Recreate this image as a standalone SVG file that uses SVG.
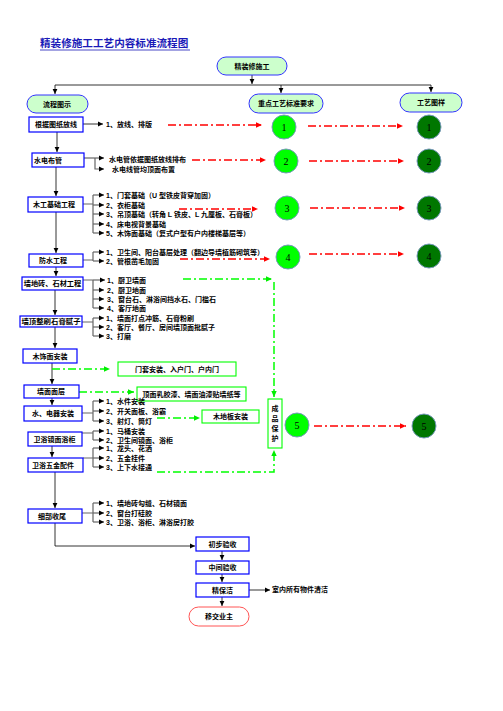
<svg xmlns="http://www.w3.org/2000/svg" width="503" height="711" viewBox="0 0 503 711">
<defs>
<marker id="ab" markerWidth="6" markerHeight="6" refX="5" refY="3" orient="auto" markerUnits="userSpaceOnUse"><path d="M0,0.6 L5,3 L0,5.4 z" fill="#000"/></marker>
<marker id="ar" markerWidth="7" markerHeight="7" refX="6" refY="3.5" orient="auto" markerUnits="userSpaceOnUse"><path d="M0,0.8 L6,3.5 L0,6.2 z" fill="#FF0000"/></marker>
<marker id="ag" markerWidth="7" markerHeight="7" refX="6" refY="3.5" orient="auto" markerUnits="userSpaceOnUse"><path d="M0,0.8 L6,3.5 L0,6.2 z" fill="#00EE00"/></marker>
</defs>
<style>
text{font-family:"Liberation Sans","Noto Sans CJK SC",sans-serif;font-weight:bold;fill:#000;dominant-baseline:central}
.t{font-size:7px}
.b{font-size:7px;text-anchor:middle}
.box{fill:#fff;stroke:#0000FF;stroke-width:1.2}
.pill{fill:#CCFFCC;stroke:#3333FF;stroke-width:1}
.gbox{fill:#fff;stroke:#00FF00;stroke-width:1.1}
.c1{fill:#00FF00;stroke:#7799BB;stroke-width:1}
.c2{fill:#007700;stroke:#7799BB;stroke-width:1}
.num{font-family:"Liberation Serif",serif;font-weight:normal;font-size:10px;text-anchor:middle}
.ln{stroke:#000;stroke-width:0.8;fill:none}
.br{stroke:#666;stroke-width:1.2;fill:none}
.rd{stroke:#FF0000;stroke-width:1.5;stroke-dasharray:8 3 2 3;fill:none}
.gd{stroke:#00FF00;stroke-width:1.5;stroke-dasharray:8 3 2 3;fill:none}
</style>
<rect width="503" height="711" fill="#fff"/>
<g id="title">
<text x="40" y="43" style="font-size:10.6px;fill:#1A1AB8">精装修施工工艺内容标准流程图</text>
<line x1="40" y1="50" x2="190" y2="50" stroke="#1A1AB8" stroke-width="0.8"/>
</g>
<g id="connectors">
<path class="ln" d="M252,75 V84" marker-end="url(#ab)"/>
<path class="ln" d="M55,85 H431"/>
<path class="ln" d="M55,85 V94" marker-end="url(#ab)"/>
<path class="ln" d="M281,85 V93" marker-end="url(#ab)"/>
<path class="ln" d="M431,85 V92" marker-end="url(#ab)"/>
<path class="ln" d="M57,132 V152" marker-end="url(#ab)"/>
<path class="ln" d="M56,167 V196" marker-end="url(#ab)"/>
<path class="ln" d="M56,212 V253" marker-end="url(#ab)"/>
<path class="ln" d="M56,267 V276" marker-end="url(#ab)"/>
<path class="ln" d="M55,290 V315" marker-end="url(#ab)"/>
<path class="ln" d="M55,327 V348" marker-end="url(#ab)"/>
<path class="ln" d="M52,363 V384" marker-end="url(#ab)"/>
<path class="ln" d="M52,398 V405" marker-end="url(#ab)"/>
<path class="ln" d="M52,446 V457" marker-end="url(#ab)"/>
<path class="ln" d="M55,472 V508" marker-end="url(#ab)"/>
<path class="ln" d="M55,523 V546 H195" marker-end="url(#ab)"/>
<path class="ln" d="M222,551 V560" marker-end="url(#ab)"/>
<path class="ln" d="M222,574 V582" marker-end="url(#ab)"/>
<path class="ln" d="M222,597 V606" marker-end="url(#ab)"/>
<path class="ln" d="M249,590 H270" marker-end="url(#ab)"/>
<path class="ln" d="M83,124 H103" marker-end="url(#ab)"/>
<g class="br">
<path d="M84,158 H104" marker-end="url(#ab)"/>
<path d="M95,158 V169 H104" marker-end="url(#ab)"/>
<path d="M83,204 H93 M93,195 V233"/>
<path d="M93,195 H104" marker-end="url(#ab)"/>
<path d="M93,205 H104" marker-end="url(#ab)"/>
<path d="M93,214 H104" marker-end="url(#ab)"/>
<path d="M93,224 H104" marker-end="url(#ab)"/>
<path d="M93,233 H104" marker-end="url(#ab)"/>
<path d="M83,260 H93 M93,252 V261"/>
<path d="M93,252 H104" marker-end="url(#ab)"/>
<path d="M93,261 H104" marker-end="url(#ab)"/>
<path d="M83,280 H93 M93,280 V308"/>
<path d="M93,280 H105" marker-end="url(#ab)"/>
<path d="M93,290 H104" marker-end="url(#ab)"/>
<path d="M93,299 H104" marker-end="url(#ab)"/>
<path d="M93,308 H104" marker-end="url(#ab)"/>
<path d="M82,322 H93 M93,318 V336"/>
<path d="M93,318 H104" marker-end="url(#ab)"/>
<path d="M93,327 H104" marker-end="url(#ab)"/>
<path d="M93,336 H104" marker-end="url(#ab)"/>
<path d="M82,413 H93 M93,401 V421"/>
<path d="M93,401 H104" marker-end="url(#ab)"/>
<path d="M93,411 H104" marker-end="url(#ab)"/>
<path d="M93,421 H104" marker-end="url(#ab)"/>
<path d="M82,433 H93 M93,431 V440"/>
<path d="M93,431 H104" marker-end="url(#ab)"/>
<path d="M93,440 H104" marker-end="url(#ab)"/>
<path d="M83,458 H93 M93,448 V467"/>
<path d="M93,448 H104" marker-end="url(#ab)"/>
<path d="M93,458 H104" marker-end="url(#ab)"/>
<path d="M93,467 H104" marker-end="url(#ab)"/>
<path d="M82,513 H93 M93,503 V522"/>
<path d="M93,503 H104" marker-end="url(#ab)"/>
<path d="M93,513 H104" marker-end="url(#ab)"/>
<path d="M93,522 H104" marker-end="url(#ab)"/>
</g>
<path class="rd" d="M168,125 H262" marker-end="url(#ar)"/>
<path class="rd" d="M192,160 H266" marker-end="url(#ar)"/>
<path class="rd" d="M179,209 H258" marker-end="url(#ar)"/>
<path class="rd" d="M180,259 H270" marker-end="url(#ar)"/>
<path class="rd" d="M308,126 H403" marker-end="url(#ar)"/>
<path class="rd" d="M309,161 H404" marker-end="url(#ar)"/>
<path class="rd" d="M310,208 H405" marker-end="url(#ar)"/>
<path class="rd" d="M309,254 H404" marker-end="url(#ar)"/>
<path class="rd" d="M314,426 H406" marker-end="url(#ar)"/>
<path class="gd" d="M52,369 H110" marker-end="url(#ag)"/>
<path class="gd" d="M79,392 H134" marker-end="url(#ag)"/>
<path class="gd" d="M157,418 H200" marker-end="url(#ag)"/>
<path class="gd" d="M157,472 H274 V450" marker-end="url(#ag)"/>
<path class="gd" d="M183,279 H272" marker-end="url(#ag)"/>
<path class="gd" d="M274,282 V397" marker-end="url(#ag)"/>
</g>
<g id="n-top"><rect class="pill" x="217" y="57" width="70" height="18" rx="9"/><text class="b" x="252" y="66">精装修施工</text></g>
<g id="n-flow"><rect class="pill" x="27" y="95" width="61" height="18" rx="9"/><text class="b" x="57" y="104">流程图示</text></g>
<g id="n-req"><rect class="pill" x="249" y="94" width="74" height="19" rx="9.5"/><text class="b" x="286" y="103.5">重点工艺标准要求</text></g>
<g id="n-img"><rect class="pill" x="400" y="93" width="62" height="19" rx="9.5"/><text class="b" x="431" y="102.5">工艺图样</text></g>
<g id="s1"><rect class="box" x="29" y="117" width="54" height="15"/><text class="b" x="56" y="124.5">根据图纸放线</text><text class="t" x="106" y="124">1、放线、排版</text></g>
<g id="s2"><rect class="box" x="32" y="153" width="52" height="14"/><text class="b" x="48" y="160">水电布管</text><text class="t" x="109" y="159">水电管依据图纸放线排布</text><text class="t" x="112" y="169">水电线管均顶面布置</text></g>
<g id="s3"><rect class="box" x="28" y="197" width="55" height="15"/><text class="b" x="54" y="204.5">木工基础工程</text>
<text class="t" x="106" y="195">1、门套基础（U 型铁皮背穿加固）</text>
<text class="t" x="106" y="205">2、衣柜基础</text>
<text class="t" x="106" y="214">3、吊顶基础（转角 L 铁皮、L 九厘板、石膏板）</text>
<text class="t" x="106" y="224">4、床电视背景基础</text>
<text class="t" x="106" y="233">5、木饰面基础（复式户型有户内楼梯基层等）</text></g>
<g id="s4"><rect class="box" x="29" y="254" width="54" height="13"/><text class="b" x="53" y="260.5">防水工程</text>
<text class="t" x="106" y="252">1、卫生间、阳台基层处理（翻边导墙植筋砌筑等）</text>
<text class="t" x="106" y="261">2、管根凿毛加固</text></g>
<g id="s5"><rect class="box" x="22" y="277" width="61" height="13"/><text class="b" x="52.5" y="283.5" style="font-size:7.2px">墙地砖、石材工程</text>
<text class="t" x="107" y="280">1、厨卫墙面</text>
<text class="t" x="107" y="290">2、厨卫地面</text>
<text class="t" x="107" y="299">3、窗台石、淋浴间挡水石、门槛石</text>
<text class="t" x="107" y="308">4、客厅地面</text></g>
<g id="s6"><rect class="box" x="20" y="316" width="62" height="11"/><text class="b" x="51" y="321.5" style="font-size:7.4px">墙顶整刷石膏腻子</text>
<text class="t" x="106" y="318">1、墙面打点冲筋、石膏粉刷</text>
<text class="t" x="106" y="327">2、客厅、餐厅、房间墙顶面批腻子</text>
<text class="t" x="106" y="336">3、打磨</text></g>
<g id="s7"><rect class="box" x="23" y="349" width="54" height="14"/><text class="b" x="50" y="356">木饰面安装</text></g>
<g id="g7"><rect class="gbox" x="118" y="362" width="118" height="14"/><text class="b" x="177" y="369">门套安装、入户门、户内门</text></g>
<g id="s8"><rect class="box" x="24" y="385" width="55" height="13"/><text class="b" x="51" y="391.5">墙面面层</text></g>
<g id="g8"><rect class="gbox" x="137" y="387" width="109" height="14"/><text class="b" x="191.5" y="394">顶面乳胶漆、墙面油漆贴墙纸等</text></g>
<g id="s9"><rect class="box" x="24" y="406" width="58" height="15"/><text class="b" x="53" y="413.5">水、电器安装</text>
<text class="t" x="106" y="401">1、水件安装</text>
<text class="t" x="106" y="411">2、开关面板、浴霸</text>
<text class="t" x="106" y="421">3、射灯、筒灯</text></g>
<g id="g9"><rect class="gbox" x="202" y="410" width="57" height="13"/><text class="b" x="230.5" y="416.5">木地板安装</text></g>
<g id="s10"><rect class="box" x="28" y="432" width="54" height="14"/><text class="b" x="54.5" y="439">卫浴镜面浴柜</text>
<text class="t" x="106" y="431">1、马桶安装</text>
<text class="t" x="106" y="440.5">2、卫生间镜面、浴柜</text></g>
<g id="s11"><rect class="box" x="28" y="458" width="55" height="14"/><text class="b" x="53" y="465">卫浴五金配件</text>
<text class="t" x="106" y="448.5">1、龙头、花洒</text>
<text class="t" x="106" y="458">2、五金挂件</text>
<text class="t" x="106" y="467">3、上下水接通</text></g>
<g id="protect"><rect class="gbox" x="268" y="399" width="14" height="49"/>
<text class="b" x="275" y="408">成</text><text class="b" x="275" y="418">品</text><text class="b" x="275" y="428">保</text><text class="b" x="275" y="438">护</text></g>
<g id="s12"><rect class="box" x="28" y="509" width="54" height="14"/><text class="b" x="52" y="516">细部收尾</text>
<text class="t" x="106" y="503">1、墙地砖勾缝、石材镜面</text>
<text class="t" x="106" y="513">2、窗台打硅胶</text>
<text class="t" x="106" y="522">3、卫浴、浴柜、淋浴房打胶</text></g>
<g id="e1"><rect class="box" x="196" y="537" width="53" height="14"/><text class="b" x="222.5" y="544">初步验收</text></g>
<g id="e2"><rect class="box" x="196" y="561" width="53" height="13"/><text class="b" x="222.5" y="567.5">中间验收</text></g>
<g id="e3"><rect class="box" x="196" y="583" width="53" height="14"/><text class="b" x="222.5" y="590">精保洁</text><text class="t" x="272" y="589.5">室内所有物件清洁</text></g>
<g id="e4"><rect x="189" y="607" width="60" height="19" rx="9.5" fill="#fff" stroke="#FF5555" stroke-width="1"/><text class="b" x="219" y="616.5">移交业主</text></g>
<g id="circles">
<circle class="c1" cx="284" cy="127" r="12"/><text class="num" x="284" y="127.5">1</text>
<circle class="c2" cx="429" cy="127" r="12"/><text class="num" x="429" y="127.5">1</text>
<circle class="c1" cx="286" cy="161" r="12"/><text class="num" x="286" y="161.5">2</text>
<circle class="c2" cx="429" cy="161" r="12"/><text class="num" x="429" y="161.5">2</text>
<circle class="c1" cx="287" cy="208" r="12"/><text class="num" x="287" y="208.5">3</text>
<circle class="c2" cx="429" cy="208" r="12"/><text class="num" x="429" y="208.5">3</text>
<circle class="c1" cx="288" cy="257" r="12"/><text class="num" x="288" y="257.5">4</text>
<circle class="c2" cx="429" cy="256" r="12"/><text class="num" x="429" y="256.5">4</text>
<circle class="c1" cx="297" cy="425" r="12"/><text class="num" x="297" y="425.5">5</text>
<circle class="c2" cx="424" cy="426" r="12"/><text class="num" x="424" y="426.5">5</text>
</g>
</svg>
